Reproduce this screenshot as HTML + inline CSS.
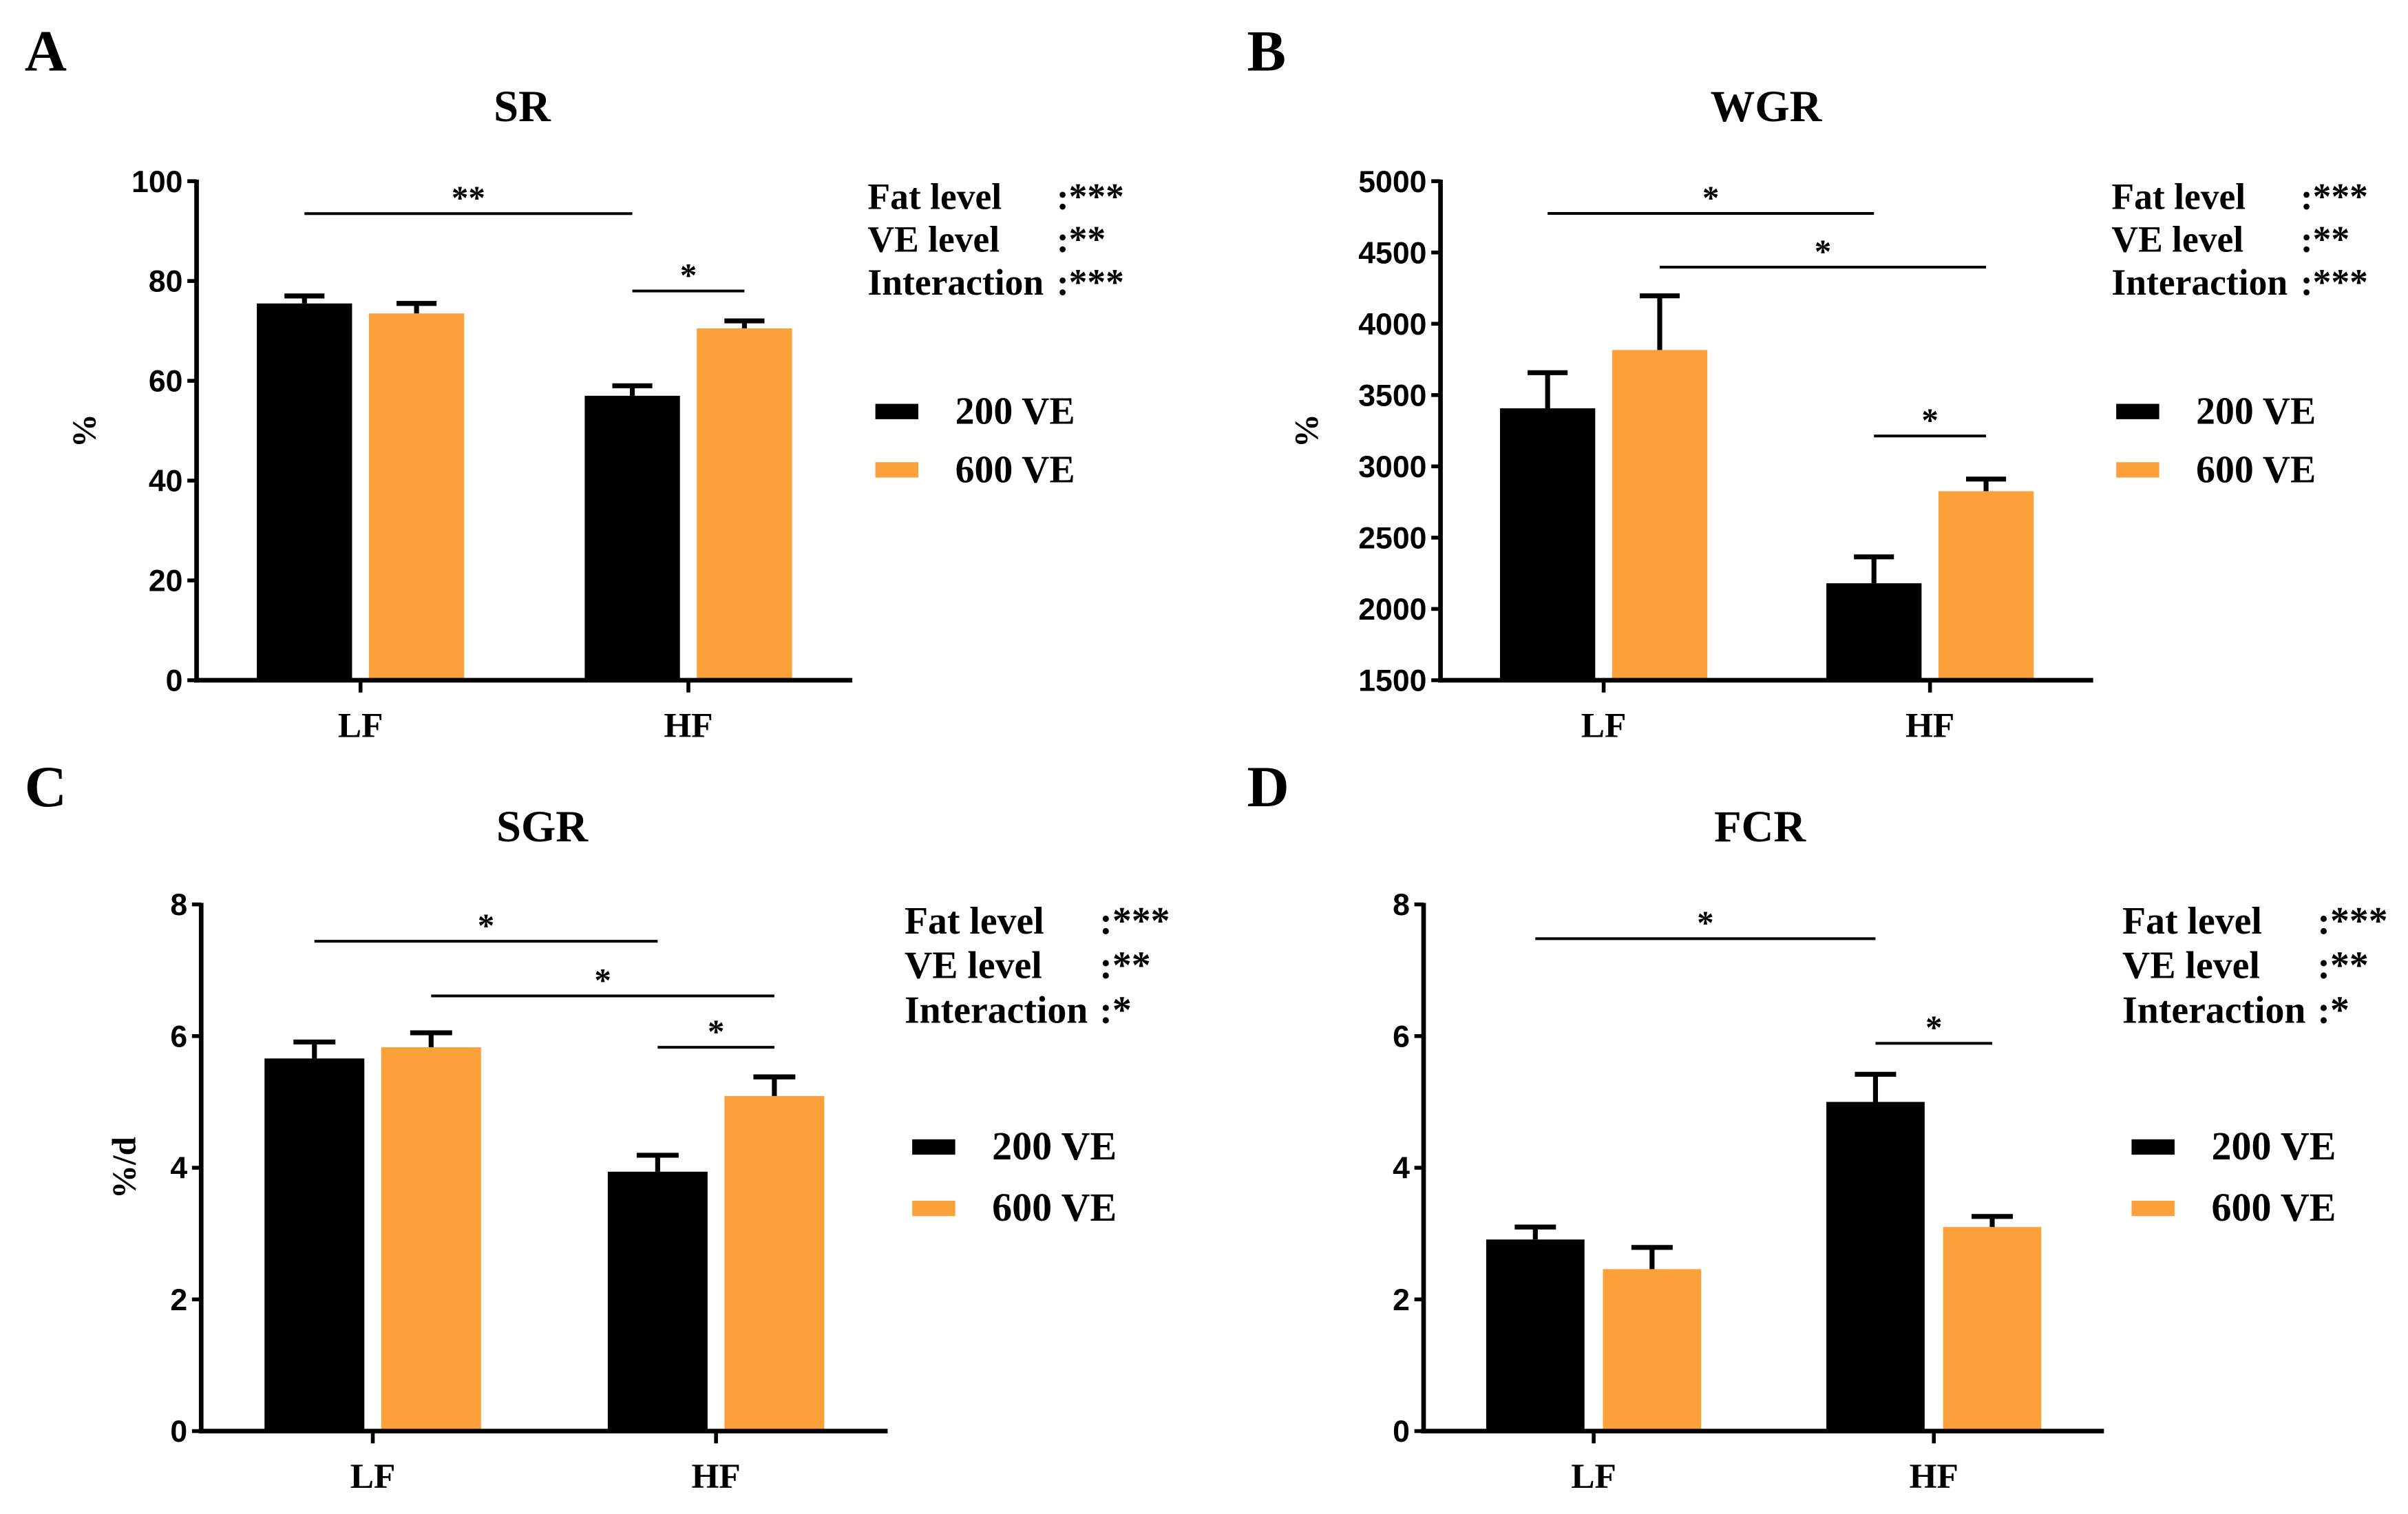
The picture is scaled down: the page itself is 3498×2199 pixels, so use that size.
<!DOCTYPE html>
<html><head><meta charset="utf-8"><style>
html,body{margin:0;padding:0;background:#fff;}
svg{display:block;}
.tk{font-family:"Liberation Sans",Arial,sans-serif;font-weight:bold;font-size:20px;}
.sf{font-family:"Liberation Serif","Times New Roman",serif;font-weight:bold;}
</style></head><body>
<svg id="fig" width="3498" height="2199" viewBox="0 0 1568 986" preserveAspectRatio="none" xmlns="http://www.w3.org/2000/svg"></svg>
<script>
// ---- data ----
const categories = ["LF","HF"];
const seriesNames = ["200 VE","600 VE"];
const srMeans200 = [75.5, 57];
const srMeans600 = [73.5, 70.5];
const srErr200 = [1.5, 2];
const srErr600 = [2, 1.5];
const srTicks = [0,20,40,60,80,100];
const srSig = [[0,0,1,0,93.5,"**"],[1,0,1,1,78,"*"]];
const srStatLabels = ["Fat level","VE level","Interaction"];
const srStatMarks = [":***",":**",":***"];

const wgrMeans200 = [3407, 2180];
const wgrMeans600 = [3816, 2826];
const wgrErr200 = [250, 185];
const wgrErr600 = [380, 85];
const wgrTicks = [1500,2000,2500,3000,3500,4000,4500,5000];
const wgrSig = [[0,0,1,0,4774,"*"],[0,1,1,1,4397,"*"],[1,0,1,1,3213,"*"]];
const wgrStatLabels = ["Fat level","VE level","Interaction"];
const wgrStatMarks = [":***",":**",":***"];

const sgrMeans200 = [5.66, 3.94];
const sgrMeans600 = [5.83, 5.09];
const sgrErr200 = [0.25, 0.25];
const sgrErr600 = [0.22, 0.29];
const sgrTicks = [0,2,4,6,8];
const sgrSig = [[0,0,1,0,7.44,"*"],[0,1,1,1,6.61,"*"],[1,0,1,1,5.83,"*"]];
const sgrStatLabels = ["Fat level","VE level","Interaction"];
const sgrStatMarks = [":***",":**",":*"];

const fcrMeans200 = [2.91, 5.0];
const fcrMeans600 = [2.46, 3.10];
const fcrErr200 = [0.19, 0.42];
const fcrErr600 = [0.33, 0.16];
const fcrTicks = [0,2,4,6,8];
const fcrSig = [[0,0,1,0,7.48,"*"],[1,0,1,1,5.89,"*"]];
const fcrStatLabels = ["Fat level","VE level","Interaction"];
const fcrStatMarks = [":***",":**",":*"];

const colors = ["#000000","#FBA03A"];
const NS = "http://www.w3.org/2000/svg";
const svg = document.getElementById("fig");
function mk(tag, attrs, parent, text){
  const e = document.createElementNS(NS, tag);
  for (const k in attrs) e.setAttribute(k, attrs[k]);
  if (text !== undefined) e.textContent = text;
  (parent || svg).appendChild(e);
  return e;
}

function panel(p, means, errs, ticks, sig, statLabels, statMarks){
  const g = mk("g", {});
  
  
  const ymin = ticks[0], ymax = ticks[ticks.length-1];
  const yS = v => p.y1 - (v - ymin) / (ymax - ymin) * (p.y1 - p.y0);
  const span = p.xEnd - p.x0;
  const xS = i => p.x0 + span * (i + 0.5) / categories.length;
  const barX = (i, s) => xS(i) + (s === 0 ? -(p.gap/2 + p.bw) : p.gap/2);

  const lab = mk("text", {x:p.labX, y:p.labY, "font-size":38, class:"sf"}, g, p.key);
  
  
  const ttl = mk("text", {x:p.titleX, y:p.titleY, "font-size":29, class:"sf", "text-anchor":"middle"}, g, p.title);
  
  

  for (let s = 0; s < 2; s++){
    for (let i = 0; i < categories.length; i++){
      const v = means[s][i], e = errs[s][i];
      const bx = barX(i, s);
      const r = mk("rect", {x:bx, y:yS(v), width:p.bw, height:yS(ymin)-yS(v), fill:colors[s]}, g);
      
      
      const cx = bx + p.bw/2, cw = p.bw*0.42;
      const eb = mk("path", {d:`M${cx},${yS(v)} V${yS(v+e)} M${cx-cw/2},${yS(v+e)} H${cx+cw/2}`, stroke:"#000", "stroke-width":3.2, fill:"none"}, g);
      
      
    }
  }
  const ya = mk("line", {x1:p.x0, y1:p.y0-1, x2:p.x0, y2:p.y1+1.5, stroke:"#000", "stroke-width":3}, g);
  
  
  const xa = mk("line", {x1:p.x0-1.5, y1:p.y1, x2:p.xEnd, y2:p.y1, stroke:"#000", "stroke-width":3}, g);
  
  
  ticks.forEach(t => {
    mk("line", {x1:p.x0-6, y1:yS(t), x2:p.x0, y2:yS(t), stroke:"#000", "stroke-width":2.5}, g);
    const tl = mk("text", {x:p.x0-9, y:yS(t)+7, class:"tk", "text-anchor":"end"}, g, String(t));
    
    
  });
  categories.forEach((c, i) => {
    mk("line", {x1:xS(i), y1:p.y1, x2:xS(i), y2:p.y1+8, stroke:"#000", "stroke-width":2.5}, g);
    const cl = mk("text", {x:xS(i), y:p.y1+37, class:"sf", "font-size":23, "text-anchor":"middle"}, g, c);
    
    
  });
  if (p.ytitle){
    const yt = mk("text", {x:0, y:0, class:"sf", "font-size":22, "text-anchor":"middle", transform:`translate(${p.ytX},${(p.y0+p.y1)/2}) rotate(-90)`}, g, p.ytitle);
    
    
  }
  sig.forEach(sg => {
    const xa1 = barX(sg[0], sg[1]) + p.bw/2, xa2 = barX(sg[2], sg[3]) + p.bw/2, yy = yS(sg[4]);
    const l = mk("line", {x1:xa1, y1:yy, x2:xa2, y2:yy, stroke:"#000", "stroke-width":1.8}, g);
    
    
    const st = mk("text", {x:(xa1+xa2)/2, y:yy-3, class:"sf", "font-size":22, "text-anchor":"middle"}, g, sg[5]);
    
    
  });
  statLabels.forEach((s, k) => {
    const t = mk("text", {x:p.stX, y:p.stY + k*p.stDy, class:"sf", "font-size":p.stFs}, g, s);
    
    
    const m = mk("text", {x:p.stX + p.stCol, y:p.stY + k*p.stDy, class:"sf", "font-size":p.stFs}, g, statMarks[k]);
    
    
  });
  seriesNames.forEach((n, s) => {
    const ly = p.lgY + s*p.lgDy;
    const sw = mk("rect", {x:p.lgX, y:ly-5, width:28, height:10, fill:colors[s]}, g);
    
    
    const lt = mk("text", {x:p.lgX+52, y:ly+8, class:"sf", "font-size":p.lgFs}, g, n);
    
    
  });
}

panel({key:"A", title:"SR", labX:16, labY:46, titleX:340, titleY:79, x0:128, xEnd:555, y0:118, y1:443, bw:62, gap:11, ytitle:"%", ytX:62, stX:565, stY:136, stDy:28, stFs:24, stCol:123, lgX:570, lgY:268, lgDy:38, lgFs:25},
  [srMeans200, srMeans600], [srErr200, srErr600], srTicks, srSig, srStatLabels, srStatMarks);
panel({key:"B", title:"WGR", labX:812, labY:46, titleX:1150, titleY:79, x0:938, xEnd:1363, y0:118, y1:443, bw:62, gap:11, ytitle:"%", ytX:858, stX:1375, stY:136, stDy:28, stFs:24, stCol:123, lgX:1378, lgY:268, lgDy:38, lgFs:25},
  [wgrMeans200, wgrMeans600], [wgrErr200, wgrErr600], wgrTicks, wgrSig, wgrStatLabels, wgrStatMarks);
panel({key:"C", title:"SGR", labX:16, labY:525, titleX:353, titleY:548, x0:131, xEnd:578, y0:589, y1:932, bw:65, gap:11, ytitle:"%/d", ytX:88, stX:589, stY:608, stDy:29, stFs:25, stCol:127, lgX:594, lgY:747, lgDy:40, lgFs:26},
  [sgrMeans200, sgrMeans600], [sgrErr200, sgrErr600], sgrTicks, sgrSig, sgrStatLabels, sgrStatMarks);
panel({key:"D", title:"FCR", labX:812, labY:525, titleX:1146, titleY:548, x0:927, xEnd:1370, y0:589, y1:932, bw:64, gap:12, ytitle:"", ytX:0, stX:1382, stY:608, stDy:29, stFs:25, stCol:127, lgX:1388, lgY:747, lgDy:40, lgFs:26},
  [fcrMeans200, fcrMeans600], [fcrErr200, fcrErr600], fcrTicks, fcrSig, fcrStatLabels, fcrStatMarks);
</script>
</body></html>
